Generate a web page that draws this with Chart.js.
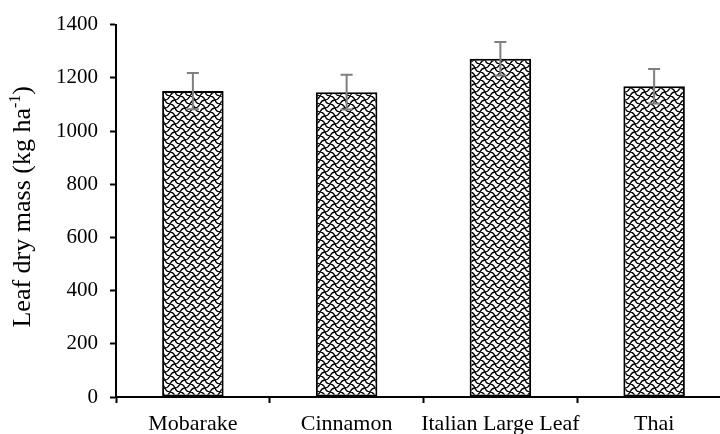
<!DOCTYPE html>
<html>
<head>
<meta charset="utf-8">
<script src="https://cdn.jsdelivr.net/npm/chart.js@4"></script>
<style>
  html, body { margin: 0; padding: 0; background: #fff; overflow: hidden; }
  #wrap { width: 740px; height: 434px; }
</style>
</head>
<body>
<div id="wrap"><canvas id="LeafChart" width="740" height="434"></canvas></div>
<script>
const cultivars = ["Mobarake", "Cinnamon", "Italian Large Leaf", "Thai"];
const leafMass = [1150, 1146, 1272, 1168];
const leafErr = [68, 65, 63, 65];
const yMin = 0;
const yMax = 1400;
const yStep = 200;

const serif = "'Liberation Serif', 'Times New Roman', serif";

// shingle-like hatch used for the bars
function makePattern() {
  const c = document.createElement("canvas");
  c.width = 10;
  c.height = 8;
  const g = c.getContext("2d");
  g.fillStyle = "#fff";
  g.fillRect(0, 0, 10, 8);
  g.strokeStyle = "#000";
  g.lineWidth = 1.3;
  g.beginPath();
  g.moveTo(0, 0);
  g.bezierCurveTo(7, 0, 3, 8, 10, 8);
  g.stroke();
  g.beginPath();
  g.moveTo(0, 8);
  g.quadraticCurveTo(2, 4, 5, 4);
  g.stroke();
  g.beginPath();
  g.moveTo(5, 4);
  g.quadraticCurveTo(8, 4, 10, 0);
  g.stroke();
  return g.createPattern(c, "repeat");
}

const errorBars = {
  id: "errorBars",
  afterDatasetsDraw(chart) {
    const ctx = chart.ctx;
    const meta = chart.getDatasetMeta(0);
    const y = chart.scales.y;
    ctx.save();
    ctx.strokeStyle = "#7f7f7f";
    ctx.lineWidth = 2;
    meta.data.forEach(function (bar, i) {
      const top = y.getPixelForValue(leafMass[i] + leafErr[i]);
      const bot = y.getPixelForValue(leafMass[i] - leafErr[i]);
      ctx.beginPath();
      ctx.moveTo(bar.x, top);
      ctx.lineTo(bar.x, bot);
      ctx.moveTo(bar.x - 6, top);
      ctx.lineTo(bar.x + 6, top);
      ctx.moveTo(bar.x - 6, bot);
      ctx.lineTo(bar.x + 6, bot);
      ctx.stroke();
    });
    ctx.restore();
  },
};

// y title with a real superscript
const yTitle = {
  id: "yTitle",
  afterDraw(chart) {
    const ctx = chart.ctx;
    const area = chart.chartArea;
    const main = "Leaf dry mass (kg ha";
    const sup = "-1";
    const end = ")";
    ctx.save();
    ctx.fillStyle = "#000";
    ctx.textBaseline = "alphabetic";
    ctx.font = "26px " + serif;
    const w1 = ctx.measureText(main).width;
    const w3 = ctx.measureText(end).width;
    ctx.font = "16px " + serif;
    const w2 = ctx.measureText(sup).width;
    const total = w1 + w2 + w3;
    ctx.translate(30, (area.top + area.bottom) / 2 - 4);
    ctx.rotate(-Math.PI / 2);
    let x = -total / 2;
    ctx.font = "26px " + serif;
    ctx.fillText(main, x, 0);
    x += w1;
    ctx.font = "16px " + serif;
    ctx.fillText(sup, x, -10);
    x += w2;
    ctx.font = "26px " + serif;
    ctx.fillText(end, x, 0);
    ctx.restore();
  },
};

const ctx = document.getElementById("LeafChart");

new Chart(ctx, {
  type: "bar",
  data: {
    labels: cultivars,
    datasets: [
      {
        data: leafMass,
        backgroundColor: makePattern(),
        borderColor: "#000",
        borderWidth: 2,
        borderSkipped: false,
        categoryPercentage: 1,
        barPercentage: 0.4,
      },
    ],
  },
  options: {
    responsive: false,
    devicePixelRatio: 1,
    animation: false,
    layout: { padding: { top: 23, right: 9, left: 0, bottom: 0 } },
    plugins: {
      legend: { display: false },
      tooltip: { enabled: false },
    },
    scales: {
      y: {
        min: yMin,
        max: yMax,
        ticks: {
          stepSize: yStep,
          color: "#000",
          padding: 12,
          font: { family: serif, size: 21 },
          callback: function (v) {
            return String(v);
          },
        },
        grid: {
          drawOnChartArea: false,
          drawTicks: true,
          tickLength: 6,
          tickWidth: 2,
          color: "#000",
        },
        border: { color: "#000", width: 2 },
        afterFit: function (scale) {
          scale.width = 116;
        },
      },
      x: {
        ticks: {
          color: "#000",
          padding: 8,
          maxRotation: 0,
          autoSkip: false,
          font: { family: serif, size: 22 },
        },
        grid: {
          offset: true,
          drawOnChartArea: false,
          drawTicks: true,
          tickLength: 6,
          tickWidth: 2,
          color: "#000",
        },
        border: { color: "#000", width: 2 },
        afterFit: function (scale) {
          scale.height = 37;
        },
      },
    },
  },
  plugins: [errorBars, yTitle],
});
</script>
</body>
</html>
